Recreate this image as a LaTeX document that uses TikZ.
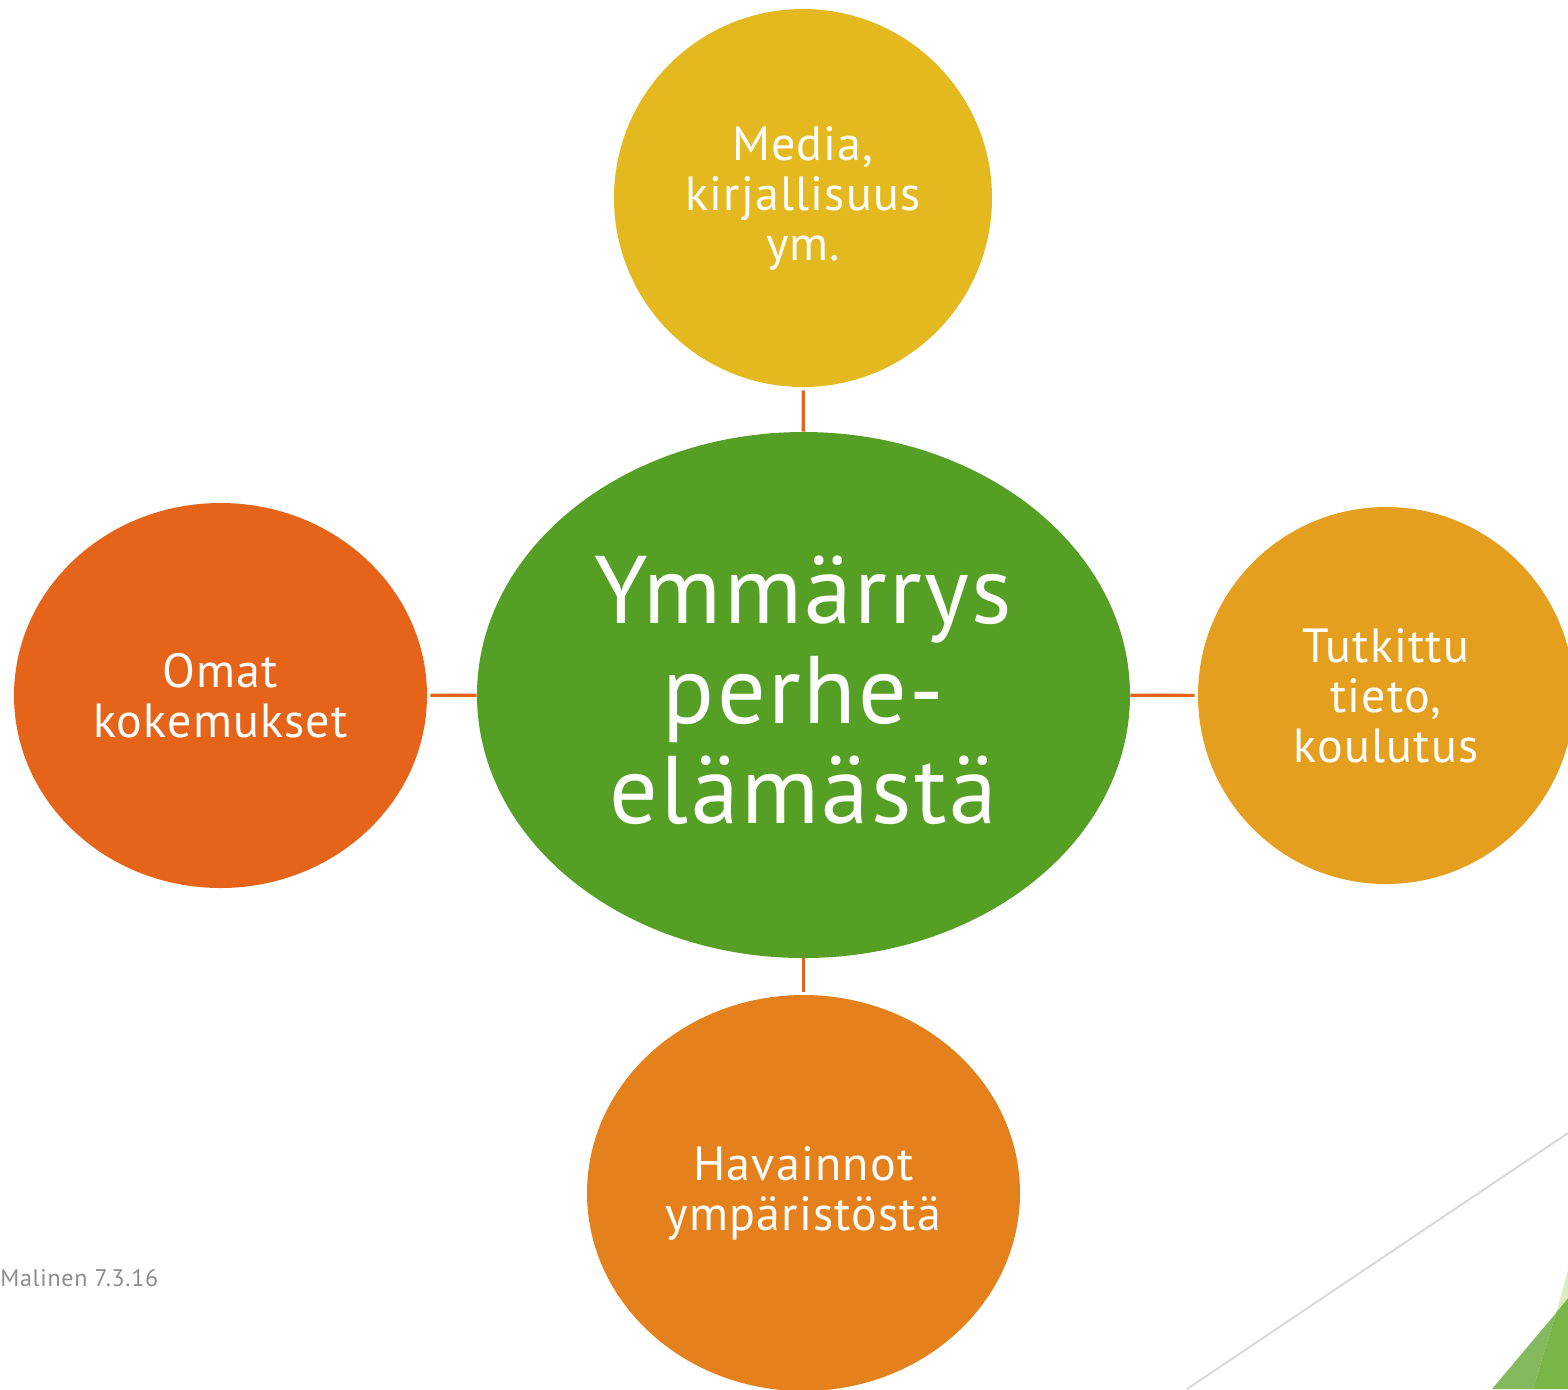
\documentclass[tikz,border=0pt]{standalone}
\usepackage{fontspec}
\setmainfont{PT Sans}
\newfontfamily\labelfont[LetterSpace=2.5]{PT Sans}
\newfontfamily\footfont[LetterSpace=3]{PT Sans}
\usetikzlibrary{shapes.geometric}
\definecolor{cyellow}{HTML}{E3B91F}
\definecolor{cgreen}{HTML}{55A024}
\definecolor{cred}{HTML}{E6641A}
\definecolor{camber}{HTML}{E59F1F}
\definecolor{corange}{HTML}{E5811C}
\definecolor{cline}{HTML}{E6641A}
\definecolor{cgray}{HTML}{8C8C8C}
\definecolor{cpale}{HTML}{DDEBC4}
\definecolor{cmid}{HTML}{84B95E}
\definecolor{cdark}{HTML}{7AB548}
\definecolor{cthin}{HTML}{D9D9D9}
\tikzset{
  blob/.style={ellipse, inner sep=0pt, text=white, align=center,
    font=\labelfont\fontsize{24}{25}\selectfont},
  hub/.style={ellipse, inner sep=0pt, text=white, align=center, fill=cgreen,
    font=\labelfont\fontsize{48}{50}\selectfont},
  link/.style={draw=cline, line width=1.6pt, shorten <=1.5pt},
}
\begin{document}
\begin{tikzpicture}[x=0.5pt,y=-0.5pt]
\useasboundingbox (0,0) rectangle (1568,1389);
\clip (0,0) rectangle (1568,1389);
% decorations bottom right
\draw[cthin, line width=1pt] (1187,1389) -- (1568,1133);
\fill[cpale] (1568,1270) -- (1556,1313) -- (1568,1298) -- cycle;
\fill[cmid] (1492,1389) -- (1556,1313) -- (1533,1389) -- cycle;
\fill[cdark] (1533,1389) -- (1556,1313) -- (1568,1298) -- (1568,1389) -- cycle;
% nodes
\node[hub, minimum width=326.5pt, minimum height=263pt] (c) at (803.5,695) {};
\node[text=white, align=center, inner sep=0pt, font=\labelfont\fontsize{48}{50}\selectfont] (ctext) at (803.5,690) {Ymmärrys\\perhe-\\elämästä};
\node[blob, fill=cyellow, minimum width=189pt, minimum height=189pt] (t) at (803,198) {Media,\\kirjallisuus\\ym.};
\node[blob, fill=cred, minimum width=206.5pt, minimum height=192.5pt] (l) at (220.5,695.5) {Omat\\kokemukset};
\node[blob, fill=camber, minimum width=188pt, minimum height=188.5pt] (r) at (1386,695.5) {Tutkittu\\tieto,\\koulutus};
\node[blob, fill=corange, minimum width=216.5pt, minimum height=198pt] (b) at (803.5,1193) {Havainnot\\ympäristöstä};
% connectors
\draw[link] (t) -- (c);
\draw[link] (l) -- (c);
\draw[link] (r) -- (c);
\draw[link] (b) -- (c);
% footer
\node[anchor=base west, inner sep=0pt, text=cgray, font=\footfont\fontsize{12}{14}\selectfont] (foot) at (0,1286) {Malinen 7.3.16};
\end{tikzpicture}
\end{document}
